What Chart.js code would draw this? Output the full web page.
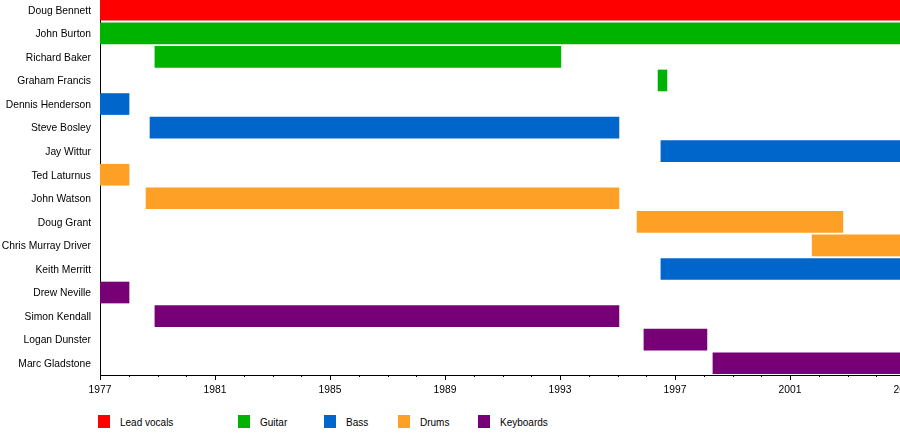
<!DOCTYPE html>
<html>
<head>
<meta charset="utf-8">
<script src="https://cdn.jsdelivr.net/npm/chart.js@4/dist/chart.umd.min.js"></script>
<style>
  html, body { margin:0; padding:0; background:#fff; width:900px; height:433px; overflow:hidden; position:relative; }
  #wrap { position:absolute; left:0; top:-2px; width:905px; height:402px; }
  .sw { position:absolute; width:12px; height:13px; top:415px; }
  .lt { position:absolute; top:416px; font:10px "Liberation Sans", Arial, sans-serif; color:#000; line-height:13px; }
</style>
</head>
<body>
<div id="wrap"><canvas id="c"></canvas></div>
<div id="legend"></div>
<script>
const members = ["Doug Bennett","John Burton","Richard Baker","Graham Francis","Dennis Henderson","Steve Bosley","Jay Wittur","Ted Laturnus","John Watson","Doug Grant","Chris Murray Driver","Keith Merritt","Drew Neville","Simon Kendall","Logan Dunster","Marc Gladstone"];
const memberRole = ["Lead vocals","Guitar","Guitar","Guitar","Bass","Bass","Bass","Drums","Drums","Drums","Drums","Bass","Keyboards","Keyboards","Keyboards","Keyboards"];
const startYears = [1977, 1977, 1978.91, 1996.41, 1977, 1978.74, 1996.51, 1977, 1978.6, 1995.68, 2001.77, 1996.51, 1977, 1978.91, 1995.92, 1998.32];
const endYears = [2005, 2005, 1993.03, 1996.72, 1978.01, 1995.05, 2005, 1978.01, 1995.05, 2002.84, 2005, 2005, 1978.01, 1995.05, 1998.11, 2005];
const roles = ["Lead vocals","Guitar","Bass","Drums","Keyboards"];
const roleColors = ["#ff0000","#00b300","#0066cc","#ffa026","#770077"];
const axisStart = 1977;
const axisEnd = 2005;
const tickLabelEvery = 4;

const datasets = roles.map((r, ri) => ({
  label: r,
  data: members.map((m, i) => memberRole[i] === r ? [startYears[i], endYears[i]] : null),
  backgroundColor: roleColors[ri],
  borderWidth: 0,
  grouped: false,
  barThickness: 21
}));

const minorTicks = {
  id: 'minorTicks',
  afterDraw(chart) {
    const s = chart.scales.x, ctx = chart.ctx;
    ctx.save();
    ctx.strokeStyle = '#000'; ctx.lineWidth = 1;
    for (let y = axisStart; y <= axisEnd; y++) {
      if ((y - axisStart) % tickLabelEvery === 0) continue;
      const px = Math.round(s.getPixelForValue(y)) + 0.5;
      ctx.beginPath(); ctx.moveTo(px, s.top); ctx.lineTo(px, s.top + 2); ctx.stroke();
    }
    ctx.restore();
  }
};

const font = { family: '"Liberation Sans", Arial, sans-serif', size: 10.3 };

new Chart(document.getElementById('c'), {
  type: 'bar',
  data: { labels: members, datasets },
  options: {
    indexAxis: 'y',
    responsive: true,
    maintainAspectRatio: false,
    animation: false,
    layout: { padding: 0 },
    plugins: { legend: { display: false }, tooltip: { enabled: false } },
    scales: {
      x: {
        type: 'linear', position: 'bottom',
        min: axisStart, max: axisEnd,
        grid: {
          drawOnChartArea: false, drawTicks: true, tickLength: 5,
          tickColor: (ctx) => (ctx.tick && (ctx.tick.value - axisStart) % tickLabelEvery === 0) ? '#000' : 'rgba(0,0,0,0)'
        },
        border: { display: true, color: '#000', width: 1 },
        ticks: {
          stepSize: 1, autoSkip: false, maxRotation: 0, minRotation: 0, padding: 4,
          color: '#000', font,
          callback: (v) => ((v - axisStart) % tickLabelEvery === 0) ? String(v) : ''
        },
        afterFit: (s) => { s.height = 25; s.paddingLeft = 0; s.paddingRight = 0; }
      },
      y: {
        type: 'category',
        grid: { display: false, drawTicks: false },
        border: { display: true, color: '#000', width: 1 },
        ticks: { color: '#000', font, padding: 9, autoSkip: false, labelOffset: 1 },
        afterFit: (s) => { s.width = 100; s.paddingTop = 0; s.paddingBottom = 0; }
      }
    }
  },
  plugins: [minorTicks]
});

const legendX = [98, 238, 324, 398, 478];
const legend = document.getElementById('legend');
roles.forEach((r, i) => {
  const sw = document.createElement('div');
  sw.className = 'sw'; sw.style.left = legendX[i] + 'px'; sw.style.background = roleColors[i];
  const t = document.createElement('div');
  t.className = 'lt'; t.style.left = (legendX[i] + 22) + 'px'; t.textContent = r;
  legend.appendChild(sw); legend.appendChild(t);
});
</script>
</body>
</html>
